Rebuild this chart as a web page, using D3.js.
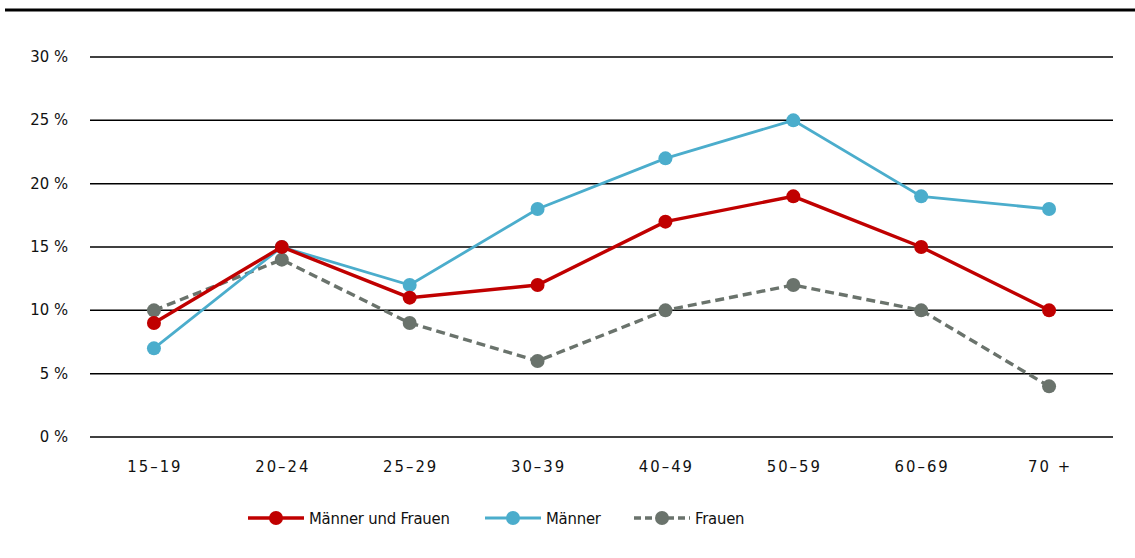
<!DOCTYPE html>
<html>
<head>
<meta charset="utf-8">
<script src="https://cdn.jsdelivr.net/npm/d3@7"></script>
<style>
  body { margin: 0; background: #fff; }
  text { font-family: "DejaVu Sans Condensed", "DejaVu Sans", sans-serif; font-stretch: condensed; font-size: 16.5px; fill: #111; }
  .xlab { letter-spacing: 2px; }
  .leg { letter-spacing: -0.2px; }
</style>
</head>
<body>
<div id="chart"></div>
<script>
const categories = ["15–19", "20–24", "25–29", "30–39", "40–49", "50–59", "60–69", "70 +"];
const beide = [9, 15, 11, 12, 17, 19, 15, 10];
const maenner = [7, 15, 12, 18, 22, 25, 19, 18];
const frauen = [10, 14, 9, 6, 10, 12, 10, 4];
const yTicks = [0, 5, 10, 15, 20, 25, 30];

const series = [
  { name: "Männer und Frauen", values: beide, color: "#c00000", width: 3.4, dash: null },
  { name: "Männer", values: maenner, color: "#4badcc", width: 2.8, dash: null },
  { name: "Frauen", values: frauen, color: "#6a736c", width: 3.4, dash: "9,5" }
];

const W = 1135, H = 558;
const svg = d3.select("#chart").append("svg").attr("width", W).attr("height", H);

// top rule
svg.append("line")
  .attr("x1", 5).attr("x2", W).attr("y1", 10).attr("y2", 10)
  .attr("stroke", "#000").attr("stroke-width", 3);

const x = d3.scalePoint().domain(categories).range([90, 1113]).padding(0.5);
const y = d3.scaleLinear().domain([0, 30]).range([437, 57]);

// gridlines
svg.selectAll(".grid").data(yTicks).enter().append("line")
  .attr("class", "grid")
  .attr("x1", 90).attr("x2", 1113)
  .attr("y1", d => y(d)).attr("y2", d => y(d))
  .attr("stroke", "#000").attr("stroke-width", 1.5);

svg.selectAll(".ylab").data(yTicks).enter().append("text")
  .attr("class", "ylab")
  .attr("x", 68).attr("y", d => y(d) + 5)
  .attr("text-anchor", "end")
  .text(d => d + " %");

svg.selectAll(".xlab").data(categories).enter().append("text")
  .attr("class", "xlab")
  .attr("x", d => x(d) + 1).attr("y", 472)
  .attr("text-anchor", "middle")
  .text(d => d);

const line = d3.line()
  .x((d, i) => x(categories[i]))
  .y(d => y(d));

// gray first, then blue, red on top
[series[2], series[1], series[0]].forEach(s => {
  svg.append("path")
    .datum(s.values)
    .attr("d", line)
    .attr("fill", "none")
    .attr("stroke", s.color)
    .attr("stroke-width", s.width)
    .attr("stroke-dasharray", s.dash);

  svg.selectAll(null).data(s.values).enter().append("circle")
    .attr("cx", (d, i) => x(categories[i]))
    .attr("cy", d => y(d))
    .attr("r", 7)
    .attr("fill", s.color);
});

// legend
const legendX = [248, 485, 634];
const legY = 518;
series.forEach((s, i) => {
  const g = svg.append("g").attr("transform", `translate(${legendX[i]},${legY})`);
  g.append("line")
    .attr("x1", 0).attr("x2", 56).attr("y1", 0).attr("y2", 0)
    .attr("stroke", s.color).attr("stroke-width", s.width)
    .attr("stroke-dasharray", s.dash ? "7,4" : null);
  g.append("circle").attr("cx", 28).attr("cy", 0).attr("r", 7).attr("fill", s.color);
  g.append("text").attr("class", "leg").attr("x", 61).attr("y", 0).attr("dy", "0.36em").text(s.name);
});
</script>
</body>
</html>
